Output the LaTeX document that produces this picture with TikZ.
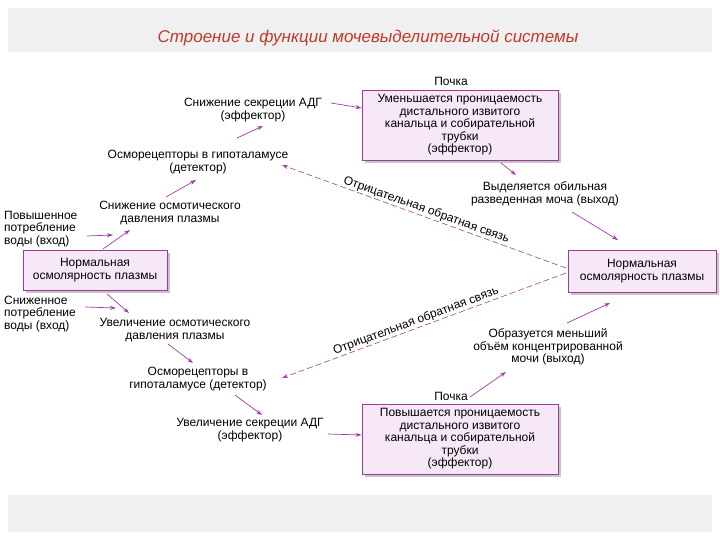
\documentclass[tikz,border=0pt]{standalone}
\usepackage{fontspec}
\setmainfont{Liberation Sans}
\usetikzlibrary{arrows.meta}
\definecolor{boxfill}{HTML}{F7E8F8}
\definecolor{boxline}{HTML}{9A3C9E}
\definecolor{arr}{HTML}{A23AA6}
\definecolor{titlecol}{HTML}{C0392B}
\begin{document}
\begin{tikzpicture}[x=1pt,y=-1pt,
  txt/.style={font=\fontsize{12}{12.5}\selectfont,align=center,inner sep=1pt,text=black},
  box/.style={draw=boxline,fill=boxfill,line width=0.8pt,font=\fontsize{12}{12.5}\selectfont,align=center,inner sep=1pt},
  arw/.style={arr,line width=0.7pt,-{Stealth[length=6pt,width=4pt]}}]
\useasboundingbox (0,0) rectangle (720,540);
\fill[gray!12] (8,8) rectangle (712,52);
\fill[gray!12] (8,495) rectangle (712,532);
\node[font=\fontsize{17}{19}\selectfont\itshape,text=titlecol] (title) at (368,38) {Строение и функции мочевыделительной системы};
% boxes with shadows
\fill[gray!45] (26,253) rectangle (170,293);
\node[box,minimum width=144pt,minimum height=40pt] (L) at (95,270) {Нормальная\\осмолярность плазмы};
\fill[gray!45] (571,253) rectangle (719,295);
\node[box,minimum width=148pt,minimum height=42pt] (R) at (642,271) {Нормальная\\осмолярность плазмы};
\fill[gray!45] (365,93) rectangle (561,163);
\node[box,minimum width=196pt,minimum height=70pt] (T) at (460,125) {Уменьшается проницаемость\\дистального извитого\\канальца и собирательной\\трубки\\(эффектор)};
\node[txt] (Tk) at (451,81) {Почка};
\fill[gray!45] (365,407) rectangle (561,477);
\node[box,minimum width=196pt,minimum height=70pt] (B) at (460,439) {Повышается проницаемость\\дистального извитого\\канальца и собирательной\\трубки\\(эффектор)};
\node[txt] (Bk) at (451,396) {Почка};
% texts
\node[txt] (a1) at (253,110) {Снижение секреции АДГ\\(эффектор)};
\node[txt] (a2) at (198,162) {Осморецепторы в гипоталамусе\\(детектор)};
\node[txt] (a3) at (170,213) {Снижение осмотического\\давления плазмы};
\node[txt,align=left,anchor=west] (in1) at (3,229) {Повышенное\\потребление\\воды (вход)};
\node[txt,align=left,anchor=west] (in2) at (3,314) {Сниженное\\потребление\\воды (вход)};
\node[txt] (b3) at (175,330) {Увеличение осмотического\\давления плазмы};
\node[txt] (b2) at (198,379) {Осморецепторы в\\гипоталамусе (детектор)};
\node[txt] (b1) at (250,430) {Увеличение секреции АДГ\\(эффектор)};
\node[txt] (o1) at (545,194) {Выделяется обильная\\разведенная моча (выход)};
\node[txt] (o2) at (548,347) {Образуется меньший\\объём концентрированной\\мочи (выход)};
% arrows
\coordinate (p1) at (103,249); \coordinate (p2) at (130,230);
\draw[arw] (p1) -- (p2);
\coordinate (p3) at (87,236); \coordinate (p4) at (113,235);
\draw[arw] (p3) -- (p4);
\coordinate (p5) at (166,197); \coordinate (p6) at (196,180);
\draw[arw] (p5) -- (p6);
\coordinate (p7) at (237,138); \coordinate (p8) at (263,126);
\draw[arw] (p7) -- (p8);
\coordinate (p9) at (331,103);
\draw[arw] (p9) -- ([yshift=17pt]T.west);
\coordinate (q1) at (501,163); \coordinate (q2) at (516,175);
\draw[arw] (q1) -- (q2);
\coordinate (q3) at (572,212); \coordinate (q4) at (618,240);
\draw[arw] (q3) -- (q4);
\coordinate (r1) at (107,294); \coordinate (r2) at (129,313);
\draw[arw] (r1) -- (r2);
\coordinate (r3) at (85,307); \coordinate (r4) at (116,308);
\draw[arw] (r3) -- (r4);
\coordinate (r5) at (168,344); \coordinate (r6) at (193,363);
\draw[arw] (r5) -- (r6);
\coordinate (r7) at (235,395); \coordinate (r8) at (262,415);
\draw[arw] (r7) -- (r8);
\coordinate (r9) at (328,434);
\draw[arw] (r9) -- ([yshift=4pt]B.west);
\coordinate (s1) at (470,397); \coordinate (s2) at (506,372);
\draw[arw] (s1) -- (s2);
\coordinate (s3) at (567,323); \coordinate (s4) at (610,303);
\draw[arw] (s3) -- (s4);
% feedback
\coordinate (f0) at (566,268); \coordinate (f1) at (282,165);
\coordinate (g0) at (566,273); \coordinate (g1) at (282,378);
\draw[arw,dash pattern=on 6pt off 3pt,line width=0.6pt] (f0) -- node[txt,sloped,above=0pt,pos=0.5] (fl) {Отрицательная обратная связь} (f1);
\draw[arw,dash pattern=on 6pt off 3pt,line width=0.6pt] (g0) -- node[txt,sloped,above=0pt,pos=0.52] (gl) {Отрицательная обратная связь} (g1);
\end{tikzpicture}
\end{document}
